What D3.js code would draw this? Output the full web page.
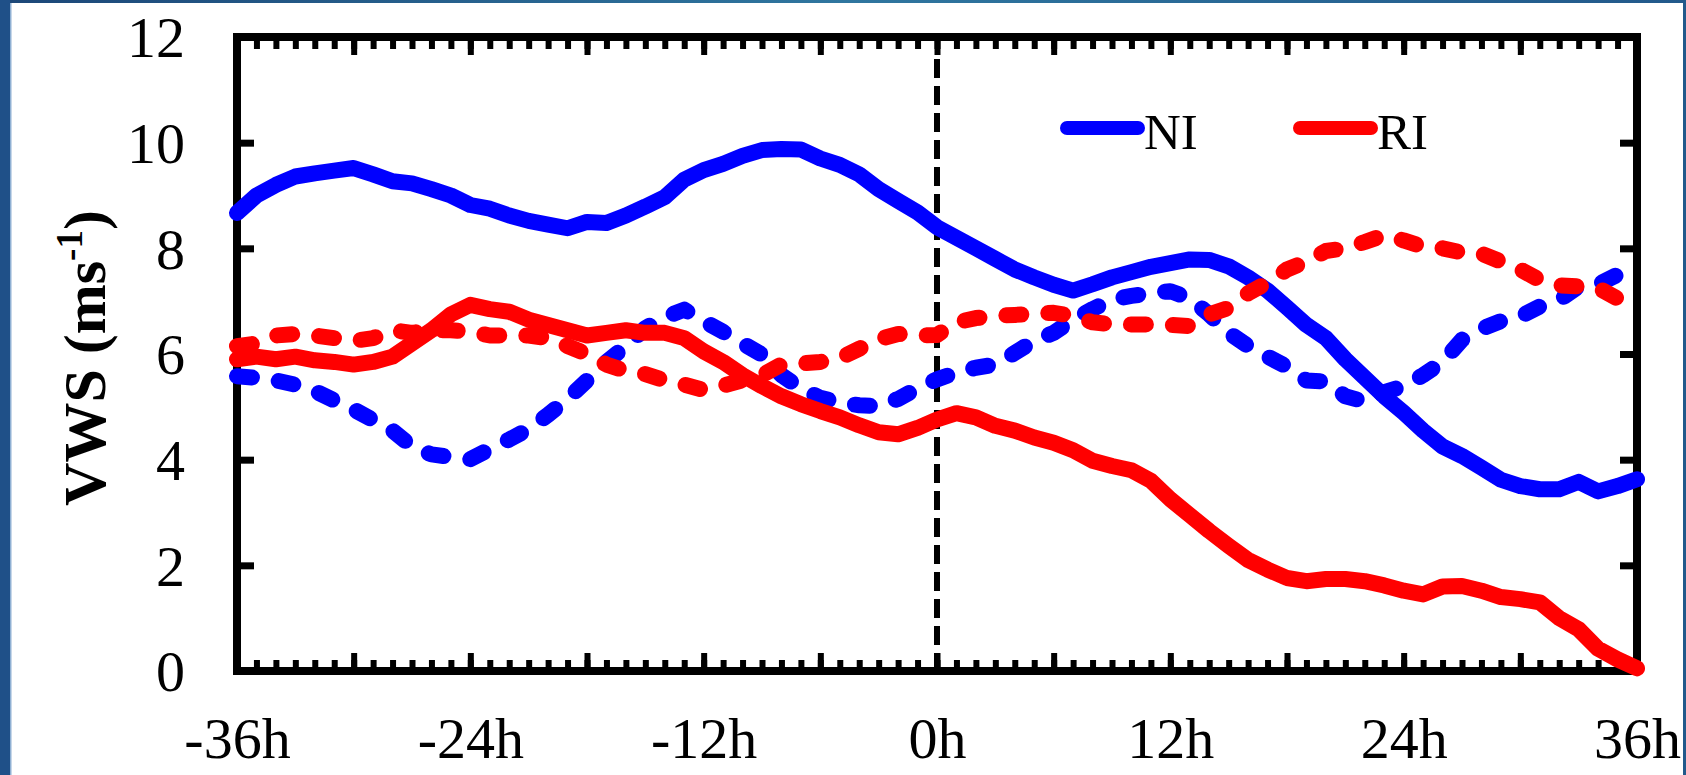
<!DOCTYPE html>
<html><head><meta charset="utf-8">
<script src="https://cdn.jsdelivr.net/npm/d3@7/dist/d3.min.js"></script>
<style>html,body{margin:0;padding:0;background:#fff;overflow:hidden}</style>
</head><body><svg id="c" width="1686" height="775"></svg>
<script>
// ---------- data ----------
const hours = [-36,-35,-34,-33,-32,-31,-30,-29,-28,-27,-26,-25,-24,-23,-22,-21,-20,-19,-18,-17,-16,-15,-14,-13,-12,-11,-10,-9,-8,-7,-6,-5,-4,-3,-2,-1,
  0,1,2,3,4,5,6,7,8,9,10,11,12,13,14,15,16,17,18,19,20,21,22,23,24,25,26,27,28,29,30,31,32,33,34,35,36];

const niSolid = [8.67,9.0,9.2,9.36,9.42,9.47,9.52,9.4,9.27,9.23,9.12,9.0,8.82,8.75,8.62,8.52,8.45,8.38,8.5,8.48,8.62,8.79,8.97,9.3,9.48,9.6,9.75,9.86,9.88,9.87,9.7,9.58,9.4,9.12,8.9,8.68,
  8.4,8.2,8.0,7.8,7.6,7.45,7.31,7.2,7.32,7.45,7.55,7.65,7.72,7.79,7.78,7.66,7.45,7.2,6.88,6.55,6.3,5.9,5.55,5.2,4.89,4.55,4.25,4.07,3.85,3.62,3.5,3.44,3.44,3.58,3.4,3.5,3.63];

const niDashed = [5.58,5.55,5.5,5.42,5.3,5.12,4.95,4.75,4.55,4.25,4.1,4.05,4.01,4.2,4.38,4.58,4.85,5.15,5.5,5.85,6.15,6.49,6.7,6.84,6.62,6.42,6.2,5.99,5.6,5.35,5.17,5.08,5.03,5.01,5.15,5.35,
  5.52,5.65,5.74,5.8,6.02,6.25,6.4,6.65,6.85,7.03,7.1,7.15,7.19,7.05,6.75,6.4,6.15,5.95,5.76,5.5,5.48,5.2,5.1,5.28,5.39,5.6,5.85,6.27,6.48,6.62,6.71,6.9,7.02,7.28,7.32,7.5,7.6];

const riSolid = [5.9,5.95,5.9,5.95,5.88,5.85,5.8,5.85,5.95,6.2,6.45,6.75,6.93,6.85,6.8,6.65,6.55,6.45,6.35,6.4,6.45,6.4,6.4,6.3,6.05,5.85,5.6,5.39,5.2,5.05,4.92,4.8,4.65,4.52,4.48,4.6,
  4.76,4.88,4.8,4.64,4.55,4.42,4.32,4.18,3.98,3.88,3.8,3.6,3.25,2.95,2.65,2.37,2.1,1.92,1.76,1.7,1.74,1.74,1.7,1.62,1.52,1.45,1.6,1.61,1.52,1.4,1.36,1.3,1.0,0.79,0.42,0.22,0.05];

const riDashed = [6.15,6.2,6.35,6.38,6.35,6.3,6.25,6.3,6.45,6.4,6.45,6.45,6.42,6.35,6.35,6.35,6.3,6.15,6.0,5.8,5.68,5.62,5.5,5.42,5.32,5.4,5.5,5.6,5.8,5.82,5.85,5.92,6.1,6.28,6.38,6.35,
  6.36,6.6,6.68,6.72,6.74,6.76,6.78,6.72,6.6,6.56,6.56,6.56,6.55,6.53,6.75,6.87,7.15,7.35,7.6,7.75,7.95,8.0,8.12,8.25,8.15,8.03,8.0,7.92,7.9,7.75,7.6,7.4,7.3,7.28,7.25,7.05,6.95];

const xLabelValues = [-36,-24,-12,0,12,24,36];
const xLabels = ["-36h","-24h","-12h","0h","12h","24h","36h"];
const xMajor = [-36,-30,-24,-18,-12,-6,0,6,12,18,24,30,36];
const yTicks = [0,2,4,6,8,10,12];
const yInner = [2,4,6,8,10];
const legendNames = ["NI","RI"];
const seriesColors = ["#0000ff","#ff0000"];

// ---------- chart ----------
const W = 1686, H = 775;
const L = 237, R = 1637, T = 37, B = 671;
const svg = d3.select("#c");
const x = d3.scaleLinear().domain([-36,36]).range([L,R]);
const y = d3.scaleLinear().domain([0,12]).range([B,T]);
const serif = "'Liberation Serif','Times New Roman',serif";

// background frame (blue border of the slide)
const defs = svg.append("defs");
const g1 = defs.append("linearGradient").attr("id","topg").attr("x1","0").attr("x2","1").attr("y1","0").attr("y2","0");
g1.append("stop").attr("offset","0").attr("stop-color","#1c4778");
g1.append("stop").attr("offset","0.5").attr("stop-color","#2f769f");
g1.append("stop").attr("offset","1").attr("stop-color","#22598b");
svg.append("rect").attr("x",0).attr("y",0).attr("width",W).attr("height",H).attr("fill","#fff");
svg.append("rect").attr("x",0).attr("y",0).attr("width",W).attr("height",3).attr("fill","url(#topg)");
svg.append("rect").attr("x",0).attr("y",0).attr("width",10).attr("height",H).attr("fill","#1f5088");
svg.append("rect").attr("x",10).attr("y",3).attr("width",1.5).attr("height",H).attr("fill","#8fb0d3");
svg.append("rect").attr("x",1683).attr("y",0).attr("width",3).attr("height",H).attr("fill","#22598b");

// ticks
function styleTicks(g, w){
  g.select(".domain").remove();
  g.selectAll(".tick line").attr("stroke","#000").attr("stroke-width",w);
}
svg.append("g").attr("transform",`translate(0,${B})`)
  .call(d3.axisTop(x).tickValues(hours).tickSize(11).tickFormat("")).call(g=>styleTicks(g,6));
svg.append("g").attr("transform",`translate(0,${B})`)
  .call(d3.axisTop(x).tickValues(xMajor).tickSize(18).tickFormat("")).call(g=>styleTicks(g,6));
svg.append("g").attr("transform",`translate(0,${T})`)
  .call(d3.axisBottom(x).tickValues(hours).tickSize(12).tickFormat("")).call(g=>styleTicks(g,6));
svg.append("g").attr("transform",`translate(0,${T})`)
  .call(d3.axisBottom(x).tickValues(xMajor).tickSize(18).tickFormat("")).call(g=>styleTicks(g,6));
svg.append("g").attr("transform",`translate(${L},0)`)
  .call(d3.axisRight(y).tickValues(yInner).tickSize(17).tickFormat("")).call(g=>styleTicks(g,7));
svg.append("g").attr("transform",`translate(${R},0)`)
  .call(d3.axisLeft(y).tickValues(yInner).tickSize(17).tickFormat("")).call(g=>styleTicks(g,7));

// frame
svg.append("rect").attr("x",L).attr("y",T).attr("width",R-L).attr("height",B-T)
  .attr("fill","none").attr("stroke","#000").attr("stroke-width",8);

// tick labels
const xl = svg.append("g").attr("transform",`translate(0,${B})`)
  .call(d3.axisBottom(x).tickValues(xLabelValues).tickSize(0).tickFormat((d,i)=>xLabels[i]));
xl.select(".domain").remove();
xl.selectAll("text").attr("y",87).attr("dy",0).attr("font-family",serif).attr("font-size",58).attr("fill","#000");

const yl = svg.append("g").attr("transform",`translate(${L},0)`)
  .call(d3.axisLeft(y).tickValues(yTicks).tickSize(0).tickFormat(d3.format("d")));
yl.select(".domain").remove();
yl.selectAll("text").attr("x",-52).attr("dy","0.34em").attr("font-family",serif).attr("font-size",58).attr("fill","#000");

// y title
const yt = svg.append("text").attr("transform","translate(105,358) rotate(-90)")
  .attr("text-anchor","middle").attr("font-family",serif).attr("font-weight","bold").attr("font-size",60).attr("fill","#000");
yt.append("tspan").text("VWS (ms");
yt.append("tspan").attr("font-size",37).attr("dy",-23).text("-1");
yt.append("tspan").attr("dy",23).text(")");

// vertical zero line
svg.append("line").attr("x1",x(0)).attr("x2",x(0)).attr("y1",T+22).attr("y2",B-4)
  .attr("stroke","#000").attr("stroke-width",6).attr("stroke-dasharray","19,8");

// data lines
const line = d3.line().x((d,i)=>x(hours[i])).y(d=>y(d));
const series = [
  {v:niSolid, c:seriesColors[0], dash:null},
  {v:niDashed, c:seriesColors[0], dash:"15,27"},
  {v:riSolid, c:seriesColors[1], dash:null},
  {v:riDashed, c:seriesColors[1], dash:"15,27"}
];
series.forEach(s=>{
  svg.append("path").attr("d",line(s.v)).attr("fill","none").attr("stroke",s.c)
    .attr("stroke-width",16).attr("stroke-linejoin","round").attr("stroke-linecap","round")
    .attr("stroke-dasharray",s.dash);
});

// legend
const legX = [1067,1300];
legendNames.forEach((n,i)=>{
  svg.append("line").attr("x1",legX[i]).attr("x2",legX[i]+71).attr("y1",128).attr("y2",128)
    .attr("stroke",seriesColors[i]).attr("stroke-width",14).attr("stroke-linecap","round");
  svg.append("text").attr("x",legX[i]+77).attr("y",149).attr("font-family",serif).attr("font-size",51)
    .attr("fill","#000").text(n);
});
</script></body></html>
